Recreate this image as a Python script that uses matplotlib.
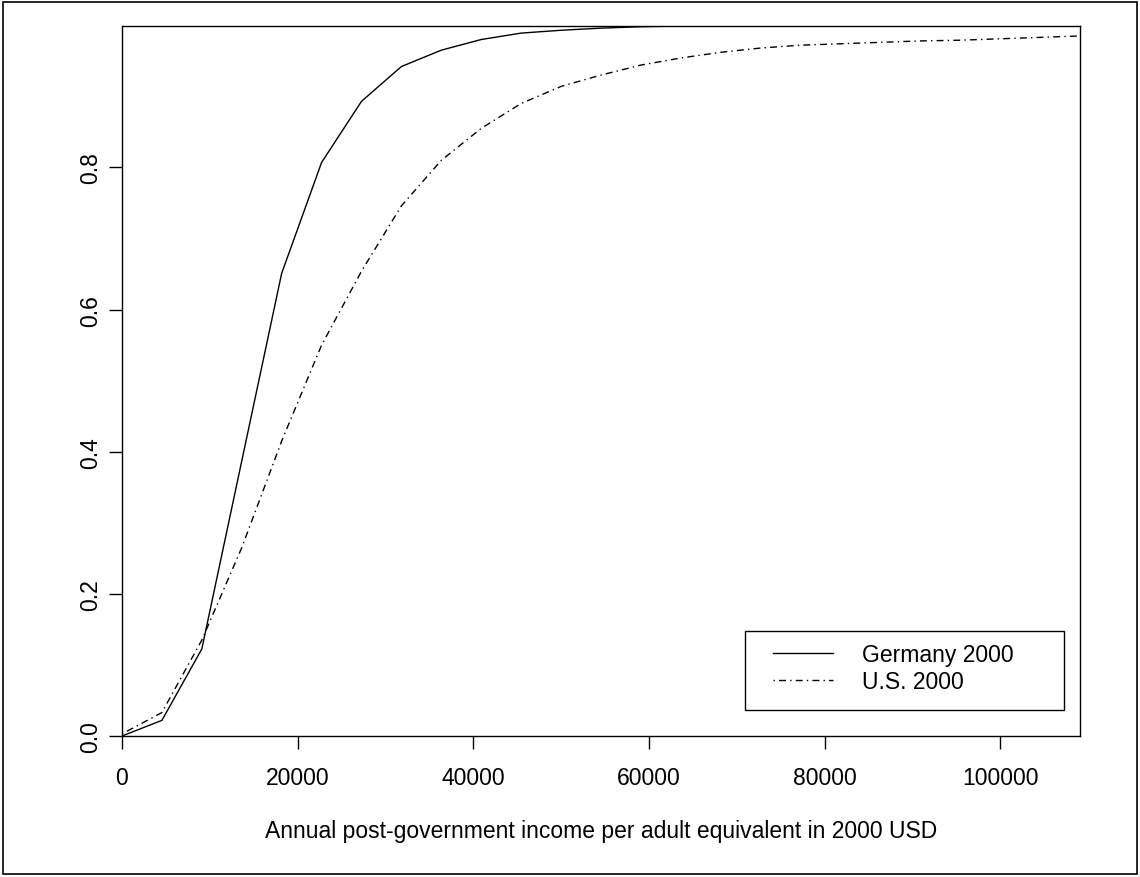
import matplotlib
matplotlib.use("Agg")
import matplotlib.pyplot as plt
from matplotlib.patches import Rectangle

plt.rcParams['font.family'] = ['Liberation Sans', 'DejaVu Sans']

income = [0, 4545, 9090, 13635, 18180, 22725, 27270, 31815, 36360, 40905,
          45450, 49995, 54540, 59085, 63630, 68175, 72720, 77265, 81810,
          86355, 90900, 95445, 99990, 104535, 109080]
germany = [0.0, 0.022, 0.1225, 0.387, 0.651, 0.807, 0.893, 0.942, 0.965,
           0.980, 0.989, 0.993, 0.996, 0.998, 0.999, 0.999, 0.999, 0.999,
           0.999, 0.999, 0.999, 0.999, 0.999, 0.999, 0.999]
us = [0.003, 0.033, 0.135, 0.265, 0.415, 0.55, 0.654, 0.746, 0.81, 0.855,
      0.89, 0.914, 0.93, 0.944, 0.954, 0.962, 0.968, 0.972, 0.974, 0.976,
      0.978, 0.979, 0.981, 0.983, 0.985]
series_labels = ["Germany 2000", "U.S. 2000"]
x_ticks = [0, 20000, 40000, 60000, 80000, 100000]
y_ticks = [0.0, 0.2, 0.4, 0.6, 0.8]
xlabel = "Annual post-government income per adult equivalent in 2000 USD"

W, H = 1140, 878
fig = plt.figure(figsize=(W / 100, H / 100), dpi=100)
ax = fig.add_axes([122 / W, 1 - 737 / H, 958 / W, 710 / H])

ax.plot(income, germany, color='black', lw=1.0, label=series_labels[0],
        solid_joinstyle='miter')
ax.plot(income, us, color='black', lw=1.0, linestyle=(0, (1, 3, 5, 3)),
        label=series_labels[1])

ax.set_xlim(0, 109080)
ax.set_ylim(0, 0.999)
ax.set_xticks(x_ticks)
ax.set_xticklabels([str(v) for v in x_ticks])
ax.set_yticks(y_ticks)
ax.set_yticklabels([f"{v:.1f}" for v in y_ticks], rotation=90, va='center')

for s in ax.spines.values():
    s.set_linewidth(1.0)
ax.tick_params(axis='both', direction='out', length=9.4, width=1.0,
               labelsize=16.5, color='black')
ax.tick_params(axis='x', pad=12)
ax.tick_params(axis='y', pad=5)

ax.set_xlabel(xlabel, fontsize=16.5, labelpad=22)

# legend: frame drawn separately so the inner padding matches R's legend()
leg = ax.legend(loc='upper left', bbox_to_anchor=(0.6795, 0.1315),
                fontsize=16.5, frameon=False, borderpad=0,
                handlelength=2.6, handletextpad=1.3, labelspacing=0.19,
                borderaxespad=0)
ax.add_patch(Rectangle((0.6503, 0.0370), 0.333, 0.1113,
                       transform=ax.transAxes, fill=False, lw=1.0,
                       ec='black', zorder=5))

fig.patches.append(Rectangle((3 / W, 3 / H), 1134 / W, 872 / H,
                             transform=fig.transFigure, fill=False,
                             lw=1.2, ec='black'))

fig.savefig("out.png", dpi=100)
